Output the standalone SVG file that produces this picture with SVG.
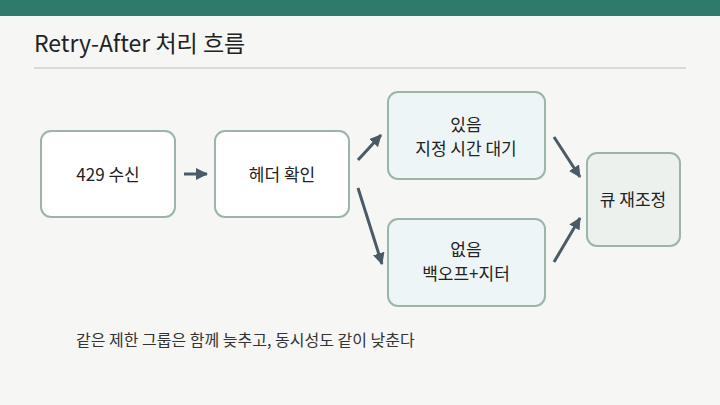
<svg xmlns="http://www.w3.org/2000/svg" width="720" height="405" viewBox="0 0 720 405">
<defs>
<style>
text{font-family:"Noto Sans CJK KR","Noto Sans",sans-serif;fill:#222;}
.lbl{font-size:17px;text-anchor:middle;}
.n{fill:#ffffff;stroke:#9cb5ab;stroke-width:2;}
.b{fill:#eef5f6;stroke:#9cb5ab;stroke-width:2;}
.g{fill:#ecf1ee;stroke:#9cb5ab;stroke-width:2;}
.c{stroke:#4a5a66;stroke-width:3;fill:none;marker-end:url(#ah);}
</style>
<marker id="ah" markerUnits="userSpaceOnUse" markerWidth="12" markerHeight="12" refX="11" refY="6" orient="auto">
<path d="M0,0 L12,6 L0,12 z" fill="#4a5a66"/>
</marker>
</defs>
<rect width="720" height="405" fill="#f6f6f4"/>
<rect width="720" height="16" fill="#2e7b6c"/>
<text x="34" y="52" style="font-size:23px;">Retry-After 처리 흐름</text>
<line x1="34" y1="68" x2="686" y2="68" stroke="#d6dcd8" stroke-width="2"/>
<g id="connectors">
<line class="c" x1="184" y1="174" x2="207" y2="174"/>
<line class="c" x1="358" y1="160" x2="381" y2="135"/>
<line class="c" x1="358" y1="188" x2="382" y2="264"/>
<line class="c" x1="554" y1="137" x2="580" y2="177"/>
<line class="c" x1="554" y1="262" x2="580" y2="218"/>
</g>
<g id="n1"><rect class="n" x="41" y="131" width="134" height="86" rx="10"/><text class="lbl" x="108" y="181">429 수신</text></g>
<g id="n2"><rect class="n" x="215" y="131" width="134" height="86" rx="10"/><text class="lbl" x="282" y="181">헤더 확인</text></g>
<g id="n3"><rect class="b" x="388" y="92" width="157" height="87" rx="10"/><text class="lbl" x="466" y="131">있음</text><text class="lbl" x="466" y="155">지정 시간 대기</text></g>
<g id="n4"><rect class="b" x="388" y="219" width="157" height="87" rx="10"/><text class="lbl" x="466" y="256">없음</text><text class="lbl" x="466" y="280">백오프+지터</text></g>
<g id="n5"><rect class="g" x="587" y="153" width="93" height="93" rx="10"/><text class="lbl" x="633" y="206">큐 재조정</text></g>
<text x="76" y="346" style="font-size:16px;fill:#333;">같은 제한 그룹은 함께 늦추고, 동시성도 같이 낮춘다</text>
</svg>
